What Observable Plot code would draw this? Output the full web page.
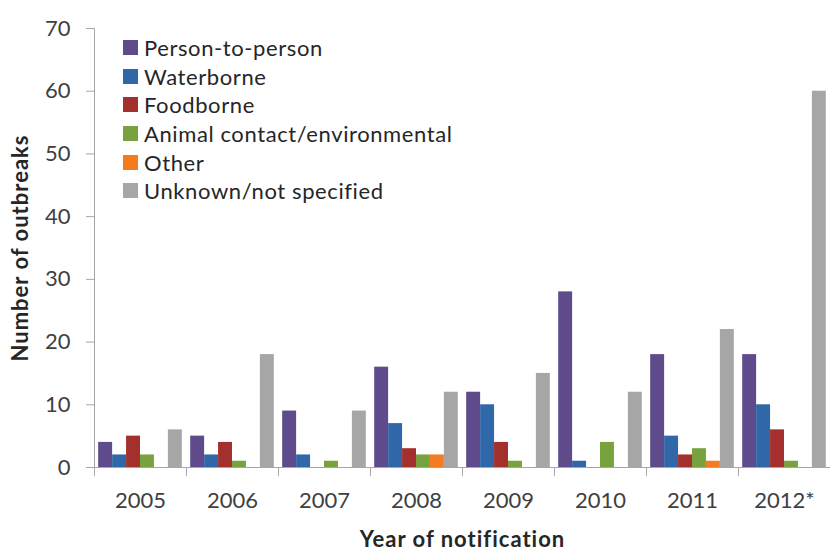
<!DOCTYPE html>
<html><head><meta charset="utf-8">
<script src="https://cdn.jsdelivr.net/npm/d3@7"></script>
<script src="https://cdn.jsdelivr.net/npm/@observablehq/plot@0.6"></script>
<style>
body{margin:0;background:#fff}
#wrap{position:relative;width:834px;height:552px;font-family:Lato,"Open Sans",sans-serif}
.legend{position:absolute;left:123px;top:33px;font-size:22px;letter-spacing:0.6px;color:#262626}
.row{height:28.7px;display:flex;align-items:center}
.sw{width:15px;height:15px;margin-right:6px;flex:none}
.chart g[aria-label="y-axis label"] text,.chart g[aria-label="fx-axis label"] text{font-weight:bold;fill:#262626;font-size:22px;letter-spacing:1px}
</style></head><body>
<div id="wrap"></div>
<script>
const years = ["2005","2006","2007","2008","2009","2010","2011","2012*"];
const series = ["Person-to-person","Waterborne","Foodborne","Animal contact/environmental","Other","Unknown/not specified"];
const colors = ["#5f4a8b","#2f67a9","#a3302c","#77a23d","#f47c20","#a6a6a6"];
const personToPerson = [4,5,9,16,12,28,18,18];
const waterborne     = [2,2,2,7,10,1,5,10];
const foodborne      = [5,4,0,3,4,0,2,6];
const animalContact  = [2,1,1,2,1,4,3,1];
const other          = [0,0,0,2,0,0,1,0];
const unknown        = [6,18,9,12,15,12,22,60];
const yTicks = [0,10,20,30,40,50,60,70];

const valuesBySeries = [personToPerson,waterborne,foodborne,animalContact,other,unknown];
const rows = [];
series.forEach((s,i)=>years.forEach((y,j)=>rows.push({year:y,series:s,value:valuesBySeries[i][j]})));

const W=834,H=552,mt=28,mb=85,ml=92,mr=3;
const frameH = H-mt-mb;
const axisGray = "#a6a6a6";
const line = {draw(ctx,l){ctx.moveTo(0,0);ctx.lineTo(0,-l);}};

const chart = Plot.plot({
  width:W,height:H,marginTop:mt,marginBottom:mb,marginLeft:ml,marginRight:mr,
  className:"chart",
  style:{fontFamily:"Lato, 'Open Sans', sans-serif",fontSize:"22px",color:"#404040",background:"#fff"},
  fx:{domain:years,padding:0,label:null},
  x:{domain:series,paddingInner:0,paddingOuter:0.3,round:false,axis:null},
  y:{domain:[0,70]},
  color:{domain:series,range:colors},
  marks:[
    Plot.barY(rows,{fx:"year",x:"series",y:"value",fill:"series"}),
    Plot.ruleY([0],{stroke:axisGray}),
    Plot.vector(years,{fx:d=>d,frameAnchor:"bottom-left",length:8,rotate:180,anchor:"start",shape:line,stroke:axisGray,strokeWidth:1}),
    Plot.vector(["2005"],{fx:d=>d,frameAnchor:"bottom-left",length:frameH,rotate:0,anchor:"start",shape:line,stroke:axisGray,strokeWidth:1}),
    Plot.axisY({ticks:yTicks,tickSize:8,tickPadding:16,stroke:axisGray,label:"Number of outbreaks",labelAnchor:"center",labelArrow:"none",labelOffset:82,fontSize:22}),
    Plot.axisFx({anchor:"bottom",tickSize:0,tickPadding:25,label:"Year of notification",labelAnchor:"center",labelArrow:"none",labelOffset:79,fontSize:22})
  ]
});
document.getElementById("wrap").appendChild(chart);

const leg = d3.select("#wrap").append("div").attr("class","legend");
series.forEach((s,i)=>{
  const r = leg.append("div").attr("class","row");
  r.append("div").attr("class","sw").style("background",colors[i]);
  r.append("span").text(s);
});
</script>
</body></html>
